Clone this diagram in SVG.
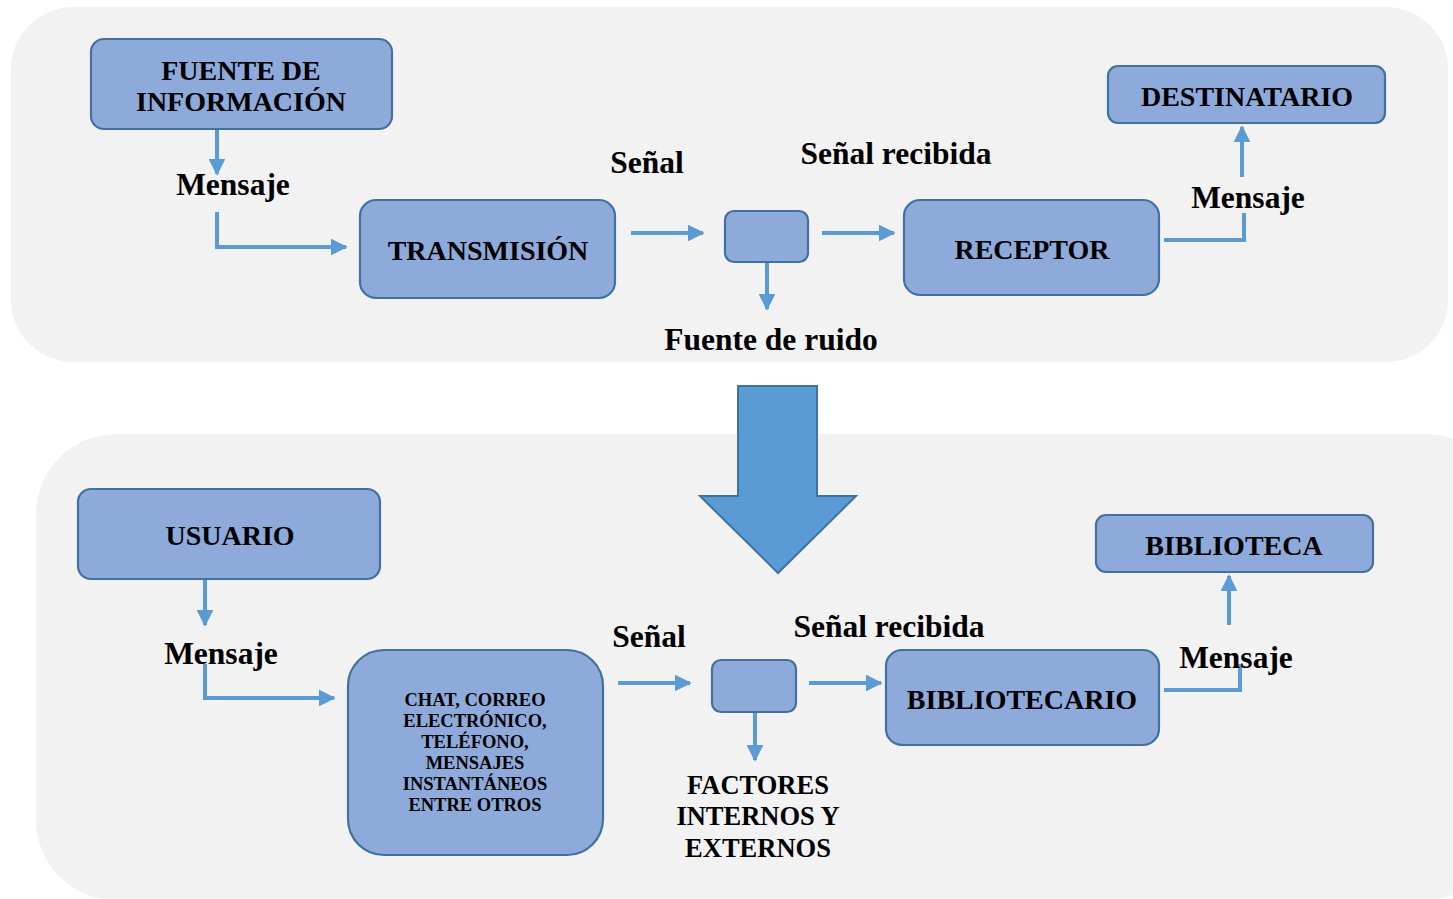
<svg xmlns="http://www.w3.org/2000/svg" width="1453" height="899" viewBox="0 0 1453 899">
  <defs>
    <marker id="ah" viewBox="0 0 10 10" refX="9" refY="5" markerWidth="4.2" markerHeight="4.2" markerUnits="strokeWidth" orient="auto">
      <path d="M0,0 L10,5 L0,10 Z" fill="#5B9BD5"/>
    </marker>
    <style>
      .panel { fill: #F2F2F2; }
      .node { fill: #8EAADB; stroke: #41719C; stroke-width: 2.2; }
      .lbl { font-family: "Liberation Serif", "Times New Roman", serif; font-weight: bold; fill: #000; text-anchor: middle; }
      .box { font-size: 28px; }
      .big { font-size: 31.5px; }
      .mid { font-size: 26.5px; }
      .small { font-size: 18.5px; }
      .conn { fill: none; stroke: #5B9BD5; stroke-width: 4; }
      .arr { marker-end: url(#ah); }
    </style>
  </defs>

  <rect width="1453" height="899" fill="#FFFFFF"/>

  <!-- background panels -->
  <rect class="panel" x="11" y="7" width="1437" height="355" rx="62" ry="62"/>
  <rect class="panel" x="36" y="434" width="1470" height="466" rx="80" ry="80"/>

  <!-- big downward block arrow between panels -->
  <path d="M738,386 L817,386 L817,496 L856,496 L778,573 L700,496 L738,496 Z" fill="#5B9BD5" stroke="#41719C" stroke-width="2"/>

  <!-- connectors -->
  <g id="connectors">
    <!-- upper flow -->
    <path class="conn arr" d="M217,129 L217,174"/>
    <path class="conn arr" d="M217,212 L217,247 L346,247"/>
    <path class="conn arr" d="M631,233 L703,233"/>
    <path class="conn arr" d="M767,262 L767,309"/>
    <path class="conn arr" d="M822,233 L894,233"/>
    <path class="conn" d="M1164,240 L1244,240 L1244,213"/>
    <path class="conn arr" d="M1242,177 L1242,127"/>
    <!-- lower flow -->
    <path class="conn arr" d="M205,579 L205,625"/>
    <path class="conn arr" d="M205,664 L205,698 L334,698"/>
    <path class="conn arr" d="M618,683 L690,683"/>
    <path class="conn arr" d="M755,712 L755,760"/>
    <path class="conn arr" d="M809,683 L881,683"/>
    <path class="conn" d="M1164,690 L1240,690 L1240,664"/>
    <path class="conn arr" d="M1229,625 L1229,576"/>
  </g>

  <!-- upper nodes -->
  <g id="fuente">
    <rect class="node" x="91" y="39" width="301" height="90" rx="13"/>
    <text class="lbl box" x="241" y="80">FUENTE DE</text>
    <text class="lbl box" x="241" y="111">INFORMACIÓN</text>
  </g>
  <g id="transmision">
    <rect class="node" x="360" y="200" width="255" height="98" rx="16"/>
    <text class="lbl box" x="488" y="260">TRANSMISIÓN</text>
  </g>
  <g id="canal">
    <rect class="node" x="725" y="211" width="83" height="51" rx="9"/>
  </g>
  <g id="receptor">
    <rect class="node" x="904" y="200" width="255" height="95" rx="16"/>
    <text class="lbl box" x="1032" y="259">RECEPTOR</text>
  </g>
  <g id="destinatario">
    <rect class="node" x="1108" y="66" width="277" height="57" rx="10"/>
    <text class="lbl box" x="1247" y="106">DESTINATARIO</text>
  </g>

  <!-- upper labels -->
  <g id="labels-top">
    <text class="lbl big" x="233" y="195">Mensaje</text>
    <text class="lbl big" x="647" y="173">Señal</text>
    <text class="lbl big" x="896" y="164">Señal recibida</text>
    <text class="lbl big" x="771" y="350">Fuente de ruido</text>
    <text class="lbl big" x="1248" y="208">Mensaje</text>
  </g>

  <!-- lower nodes -->
  <g id="usuario">
    <rect class="node" x="78" y="489" width="302" height="90" rx="13"/>
    <text class="lbl box" x="230" y="545">USUARIO</text>
  </g>
  <g id="medios">
    <rect class="node" x="348" y="650" width="255" height="205" rx="36"/>
    <text class="lbl small" x="475" y="706">CHAT, CORREO</text>
    <text class="lbl small" x="475" y="727">ELECTRÓNICO,</text>
    <text class="lbl small" x="475" y="748">TELÉFONO,</text>
    <text class="lbl small" x="475" y="769">MENSAJES</text>
    <text class="lbl small" x="475" y="790">INSTANTÁNEOS</text>
    <text class="lbl small" x="475" y="811">ENTRE OTROS</text>
  </g>
  <g id="canal2">
    <rect class="node" x="712" y="660" width="84" height="52" rx="9"/>
  </g>
  <g id="bibliotecario">
    <rect class="node" x="886" y="650" width="273" height="95" rx="16"/>
    <text class="lbl box" x="1022" y="709">BIBLIOTECARIO</text>
  </g>
  <g id="biblioteca">
    <rect class="node" x="1096" y="515" width="277" height="57" rx="10"/>
    <text class="lbl box" x="1234" y="555">BIBLIOTECA</text>
  </g>

  <!-- lower labels -->
  <g id="labels-bottom">
    <text class="lbl big" x="221" y="664">Mensaje</text>
    <text class="lbl big" x="649" y="647">Señal</text>
    <text class="lbl big" x="889" y="637">Señal recibida</text>
    <text class="lbl mid" x="758" y="794">FACTORES</text>
    <text class="lbl mid" x="758" y="825">INTERNOS Y</text>
    <text class="lbl mid" x="758" y="857">EXTERNOS</text>
    <text class="lbl big" x="1236" y="668">Mensaje</text>
  </g>
</svg>
